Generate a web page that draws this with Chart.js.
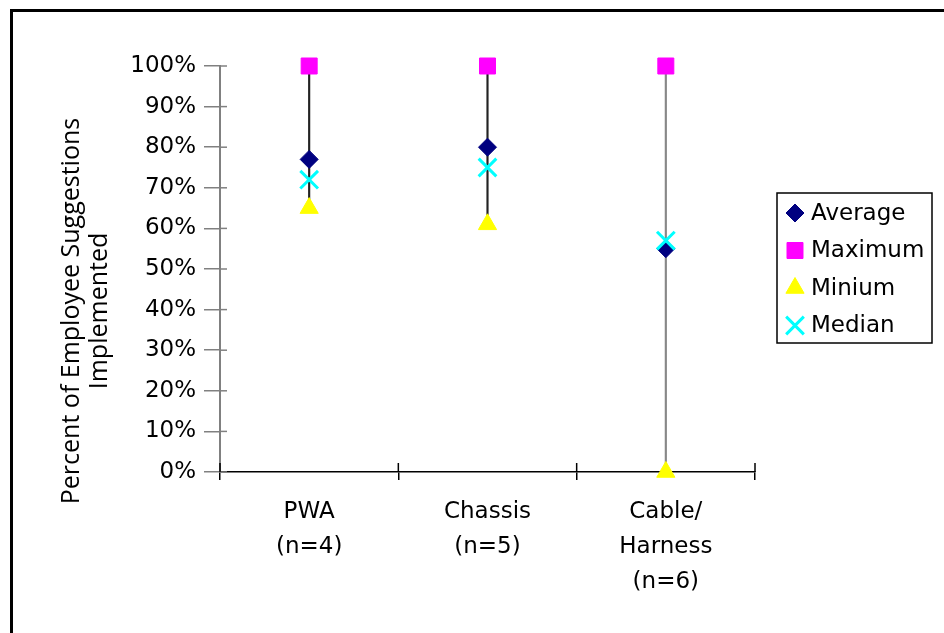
<!DOCTYPE html>
<html>
<head>
<meta charset="utf-8">
<script src="https://cdn.jsdelivr.net/npm/chart.js@4.4.0/dist/chart.umd.min.js"></script>
<style>
  body { margin: 0; background: #fff; }
  #wrap { position: relative; width: 944px; height: 633px; overflow: hidden; }
  #frame { position: absolute; left: 10px; top: 9px; width: 980px; height: 680px; border: 3px solid #000; pointer-events: none; }
</style>
</head>
<body>
<div id="wrap">
  <canvas id="chart" width="944" height="633"></canvas>
  <div id="frame"></div>
</div>
<script>
// Datos
const categories = [['PWA', '(n=4)'], ['Chassis', '(n=5)'], ['Cable/', 'Harness', '(n=6)']];
const averageValues = [77, 80, 55];
const maximumValues = [100, 100, 100];
const minimumValues = [65, 61, 0];
const medianValues = [72, 75, 57];
const yTicks = [0, 10, 20, 30, 40, 50, 60, 70, 80, 90, 100];
const yTitle = ['Percent of Employee Suggestions', 'Implemented'];

const labelFont = 'DejaVu Sans';

// Rango max-min como barra flotante
const rangeValues = maximumValues.map((max, i) => [minimumValues[i], max]);

// Marcas que cruzan los ejes
const innerTicks = {
    id: 'innerTicks',
    afterDatasetsDraw(chart) {
        const ctx = chart.ctx;
        const x = chart.scales.x;
        const y = chart.scales.y;
        ctx.save();
        ctx.lineWidth = 1.5;
        ctx.strokeStyle = '#808080';
        yTicks.forEach(v => {
            const py = y.getPixelForValue(v);
            ctx.beginPath();
            ctx.moveTo(x.left, py);
            ctx.lineTo(x.left + 7, py);
            ctx.stroke();
        });
        ctx.strokeStyle = '#000';
        for (let i = 0; i <= categories.length; i++) {
            const px = x.getPixelForValue(i - 0.5);
            ctx.beginPath();
            ctx.moveTo(px, y.bottom - 9);
            ctx.lineTo(px, y.bottom);
            ctx.stroke();
        }
        ctx.restore();
    }
};

// Titulo del eje Y (dos lineas, girado)
const yTitlePlugin = {
    id: 'yTitlePlugin',
    afterDraw(chart) {
        const ctx = chart.ctx;
        ctx.save();
        ctx.translate(86, 311);
        ctx.rotate(-Math.PI / 2);
        ctx.fillStyle = '#000';
        ctx.font = '25px "Open Sans"';
        ctx.textAlign = 'center';
        ctx.textBaseline = 'middle';
        yTitle.forEach((line, i) => {
            ctx.fillText(line, 0, (i - 0.5) * 28);
        });
        ctx.restore();
    }
};

// Leyenda con recuadro
const legendPlugin = {
    id: 'legendPlugin',
    afterDraw(chart) {
        const ctx = chart.ctx;
        const left = chart.chartArea.right + 22;
        const top = 193;
        ctx.save();
        ctx.strokeStyle = '#000';
        ctx.lineWidth = 1.5;
        ctx.strokeRect(left, top, 155, 150);
        const items = chart.data.datasets.filter(d => d.label !== 'Range');
        items.forEach((ds, i) => {
            const cy = top + 20 + i * 37.5;
            ctx.fillStyle = ds.backgroundColor;
            ctx.strokeStyle = ds.borderColor;
            ctx.lineWidth = ds.borderWidth;
            Chart.helpers.drawPoint(ctx, {
                pointStyle: ds.pointStyle,
                radius: ds.pointRadius,
                rotation: 0,
                borderWidth: ds.borderWidth
            }, left + 18, cy);
            ctx.fillStyle = '#000';
            ctx.font = '23px "' + labelFont + '"';
            ctx.textAlign = 'left';
            ctx.textBaseline = 'middle';
            ctx.fillText(ds.label, left + 34, cy + 1);
        });
        ctx.restore();
    }
};

const ctx = document.getElementById('chart').getContext('2d');
new Chart(ctx, {
    type: 'bar',
    data: {
        labels: categories,
        datasets: [
            {
                label: 'Range',
                data: rangeValues,
                backgroundColor: ['#222', '#222', '#888'],
                barThickness: 1.5,
                order: 10
            },
            {
                type: 'line',
                label: 'Average',
                data: averageValues,
                showLine: false,
                pointStyle: 'rectRot',
                pointRadius: 9,
                backgroundColor: '#000080',
                borderColor: '#000080',
                borderWidth: 1,
                clip: false,
                order: 1
            },
            {
                type: 'line',
                label: 'Maximum',
                data: maximumValues,
                showLine: false,
                pointStyle: 'rect',
                pointRadius: 11.3,
                backgroundColor: '#ff00ff',
                borderColor: '#ff00ff',
                borderWidth: 1,
                clip: false,
                order: 2
            },
            {
                type: 'line',
                label: 'Minium',
                data: minimumValues,
                showLine: false,
                pointStyle: 'triangle',
                pointRadius: 10.5,
                backgroundColor: '#ffff00',
                borderColor: '#ffff00',
                borderWidth: 1,
                clip: false,
                order: 3
            },
            {
                type: 'line',
                label: 'Median',
                data: medianValues,
                showLine: false,
                pointStyle: 'crossRot',
                pointRadius: 12.5,
                backgroundColor: '#00ffff',
                borderColor: '#00ffff',
                borderWidth: 3,
                clip: false,
                order: 0
            }
        ]
    },
    options: {
        responsive: false,
        animation: false,
        layout: {
            padding: { left: 56, top: 66, right: 189, bottom: 0 }
        },
        plugins: {
            tooltip: { enabled: false },
            legend: { display: false }
        },
        scales: {
            x: {
                offset: true,
                grid: {
                    offset: true,
                    drawOnChartArea: false,
                    tickLength: 8,
                    color: '#000',
                    lineWidth: 1.5
                },
                border: { color: '#000', width: 1.5 },
                ticks: {
                    color: '#000',
                    font: { family: labelFont, size: 23, lineHeight: 1.52 },
                    padding: 15,
                    maxRotation: 0
                },
                afterFit(scale) { scale.height = 161; }
            },
            y: {
                min: 0,
                max: 100,
                grid: {
                    drawOnChartArea: false,
                    tickLength: 16,
                    color: '#808080',
                    lineWidth: 1.5
                },
                border: { color: '#808080', width: 2 },
                ticks: {
                    stepSize: 10,
                    color: '#000',
                    padding: 8,
                    font: { family: labelFont, size: 23 },
                    callback: v => v + '%'
                },
                afterFit(scale) { scale.width = 164; }
            }
        }
    },
    plugins: [innerTicks, yTitlePlugin, legendPlugin]
});
</script>
</body>
</html>
